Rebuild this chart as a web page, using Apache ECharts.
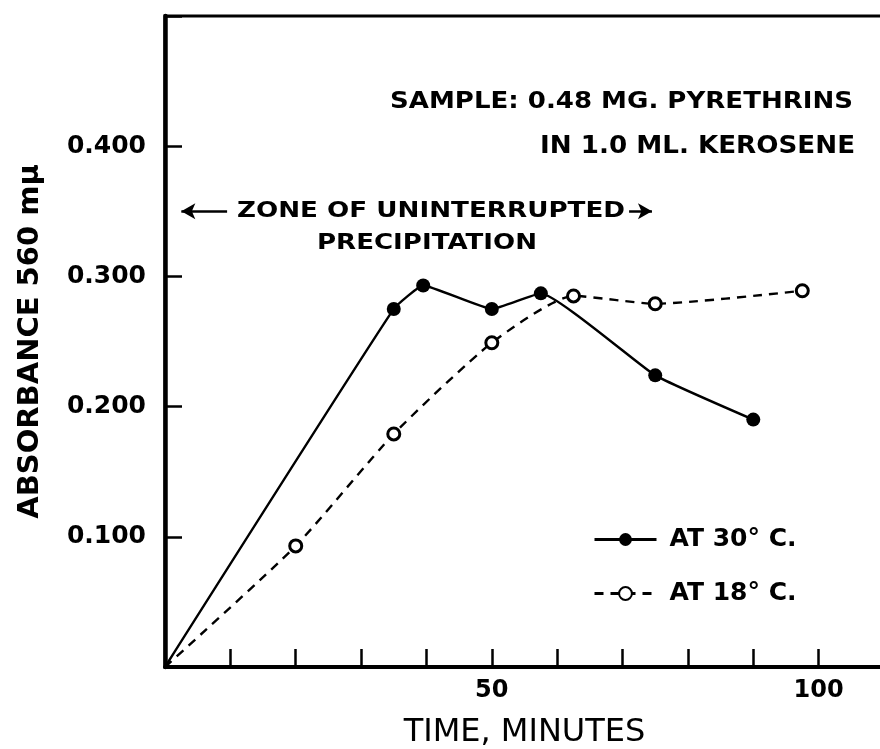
<!DOCTYPE html>
<html lang="en">
<head>
    <meta charset="utf-8">
    <title>Absorbance vs time</title>
    <script src="https://cdn.jsdelivr.net/npm/echarts@6/dist/echarts.min.js"></script>
    <style type="text/css">
        html,
        body {
            margin: 0;
            background: #fff;
        }

        #main {
            width: 880px;
            height: 749px;
        }
    </style>
</head>
<body>
    <div id="main"></div>
    <script type="text/javascript">
        // values (time in minutes, absorbance at 560 mu)
        const warmTime = [0, 35, 39.5, 50, 57.5, 75, 90];
        const warmAbs = [0, 0.275, 0.293, 0.275, 0.287, 0.224, 0.19];
        const coolTime = [0, 20, 35, 50, 62.5, 75, 97.5];
        const coolAbs = [0, 0.093, 0.179, 0.249, 0.285, 0.279, 0.289];
        const seriesNames = ['AT 30° C.', 'AT 18° C.'];
        const xLabels = [50, 100];
        const yLabels = [0.1, 0.2, 0.3, 0.4];
        // zone arrows (time, absorbance)
        const zoneY = 0.35;
        const leftArrow = [2.5, 9.5];
        const rightArrow = [71, 74.5];

        const FONT = '"DejaVu Sans", sans-serif';

        // widen hand-lettered text to its width in the figure
        const ctx = document.createElement('canvas').getContext('2d');
        function fitText(text, left, right, y, size) {
            ctx.font = 'bold ' + size + 'px "DejaVu Sans"';
            const w = ctx.measureText(text).width;
            return {
                type: 'text',
                x: left,
                y: y,
                scaleX: (right - left) / w,
                originX: 0,
                originY: 0,
                silent: true,
                style: {
                    text: text,
                    fontSize: size,
                    fontWeight: 'bold',
                    fontFamily: FONT,
                    fill: '#000',
                    textAlign: 'left',
                    textVerticalAlign: 'middle',
                    align: 'left',
                    verticalAlign: 'middle'
                }
            };
        }

        function pairs(xs, ys) {
            return xs.map(function (x, i) {
                const item = { value: [x, ys[i]] };
                if (i === 0) item.symbol = 'none';
                return item;
            });
        }

        const myChart = echarts.init(document.getElementById('main'));

        const option = {
            animation: false,
            backgroundColor: '#fff',
            grid: {
                left: 165,
                top: 16,
                width: 719,
                height: 651,
                containLabel: false,
                outerBoundsMode: 'none',
                show: true,
                borderColor: '#000',
                borderWidth: 3
            },
            legend: {
                orient: 'vertical',
                left: 588,
                top: 522,
                itemWidth: 62,
                itemHeight: 16,
                itemGap: 29,
                data: seriesNames,
                lineStyle: { width: 3 },
                textStyle: {
                    fontFamily: FONT,
                    fontWeight: 'bold',
                    fontSize: 25,
                    color: '#000',
                    padding: [0, 0, 0, 8]
                }
            },
            xAxis: {
                type: 'value',
                min: 0,
                max: 110,
                interval: 10,
                name: 'TIME, MINUTES',
                nameLocation: 'middle',
                nameGap: 50,
                nameTextStyle: {
                    fontFamily: FONT,
                    fontSize: 32,
                    color: '#000'
                },
                axisLine: { lineStyle: { color: '#000', width: 4 } },
                axisTick: { inside: true, length: 18, lineStyle: { color: '#000', width: 2.5 } },
                axisLabel: {
                    margin: 12,
                    fontFamily: FONT,
                    fontWeight: 'bold',
                    fontSize: 24,
                    color: '#000',
                    formatter: function (v) {
                        return xLabels.indexOf(v) >= 0 ? String(v) : '';
                    }
                },
                splitLine: { show: false }
            },
            yAxis: {
                type: 'value',
                min: 0,
                max: 0.5,
                interval: 0.1,
                name: 'ABSORBANCE 560 mμ',
                nameLocation: 'middle',
                nameGap: 120,
                nameTextStyle: {
                    fontFamily: FONT,
                    fontWeight: 'bold',
                    fontSize: 29,
                    color: '#000'
                },
                axisLine: { lineStyle: { color: '#000', width: 4.5 } },
                axisTick: { inside: true, length: 17, lineStyle: { color: '#000', width: 2.5 } },
                axisLabel: {
                    margin: 19,
                    fontFamily: FONT,
                    fontWeight: 'bold',
                    fontSize: 25,
                    color: '#000',
                    formatter: function (v) {
                        return yLabels.indexOf(+v.toFixed(1)) >= 0 ? v.toFixed(3) : '';
                    }
                },
                splitLine: { show: false }
            },
            graphic: [
                fitText('SAMPLE: 0.48 MG. PYRETHRINS', 390, 853, 102, 23),
                fitText('IN 1.0 ML. KEROSENE', 540, 855, 147, 24),
                fitText('ZONE OF UNINTERRUPTED', 237, 625, 212, 21),
                fitText('PRECIPITATION', 317, 537, 243, 22)
            ],
            series: [
                {
                    name: seriesNames[0],
                    type: 'line',
                    data: pairs(warmTime, warmAbs),
                    smooth: 0.12,
                    symbol: 'circle',
                    symbolSize: 14,
                    itemStyle: { color: '#000' },
                    lineStyle: { color: '#000', width: 2.4, type: 'solid' },
                    markLine: {
                        silent: true,
                        symbolSize: [12, 14],
                        label: { show: false },
                        lineStyle: { color: '#000', width: 2.5, type: 'solid' },
                        data: [
                            [
                                { coord: [leftArrow[0], zoneY], symbol: 'arrow' },
                                { coord: [leftArrow[1], zoneY], symbol: 'none' }
                            ],
                            [
                                { coord: [rightArrow[0], zoneY], symbol: 'none' },
                                { coord: [rightArrow[1], zoneY], symbol: 'arrow' }
                            ]
                        ]
                    }
                },
                {
                    name: seriesNames[1],
                    type: 'line',
                    data: pairs(coolTime, coolAbs),
                    smooth: 0.2,
                    symbol: 'circle',
                    symbolSize: 12,
                    itemStyle: { color: '#fff', borderColor: '#000', borderWidth: 3 },
                    lineStyle: { color: '#000', width: 2.4, type: [9, 7] }
                }
            ]
        };

        myChart.setOption(option);
    </script>
</body>
</html>
